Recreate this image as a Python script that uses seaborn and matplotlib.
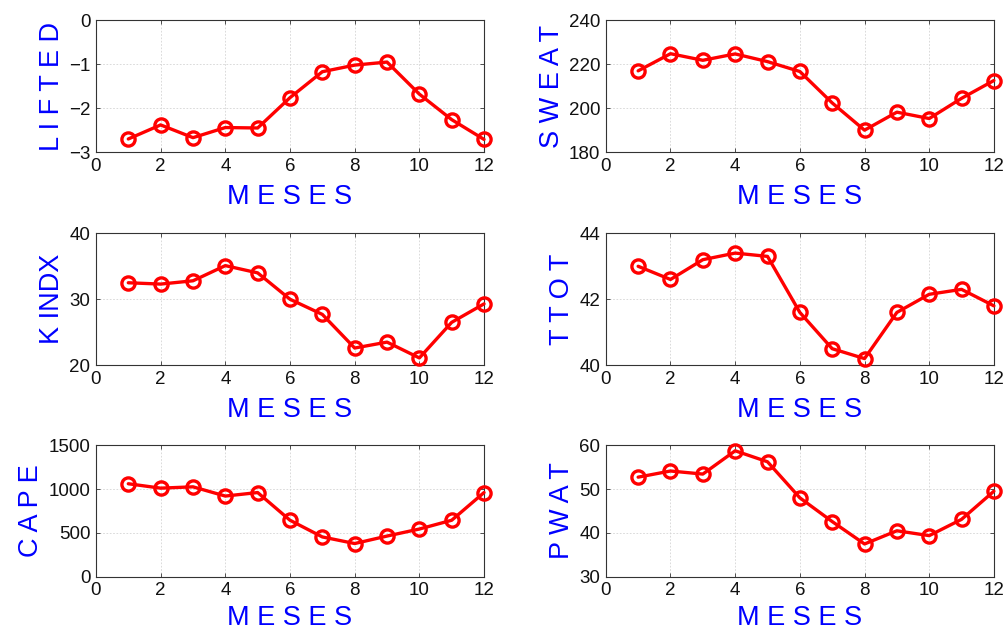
import numpy as np
import pandas as pd
import matplotlib
matplotlib.use("Agg")
import matplotlib.pyplot as plt
import seaborn as sns

months = list(range(1, 13))
lifted = [-2.70, -2.38, -2.67, -2.44, -2.45, -1.76, -1.17, -1.02, -0.95, -1.68, -2.26, -2.71]
sweat = [217.0, 224.8, 221.8, 224.7, 221.2, 216.7, 202.4, 190.0, 198.2, 195.3, 204.5, 212.6]
kindx = [32.5, 32.3, 32.8, 35.1, 34.0, 30.0, 27.7, 22.6, 23.5, 21.1, 26.5, 29.3]
ttot = [43.0, 42.6, 43.2, 43.4, 43.3, 41.6, 40.5, 40.2, 41.6, 42.15, 42.3, 41.8]
cape = [1060, 1010, 1025, 920, 960, 645, 455, 380, 465, 545, 645, 960]
pwat = [52.7, 54.1, 53.4, 58.7, 56.2, 48.0, 42.6, 37.5, 40.5, 39.4, 43.1, 49.5]

panels = [
    ("L I F T E D", lifted, (-3, 0), [-3, -2, -1, 0]),
    ("S W E A T", sweat, (180, 240), [180, 200, 220, 240]),
    ("K INDX", kindx, (20, 40), [20, 30, 40]),
    ("T T O T", ttot, (40, 44), [40, 42, 44]),
    ("C A P E", cape, (0, 1500), [0, 500, 1000, 1500]),
    ("P W A T", pwat, (30, 60), [30, 40, 50, 60]),
]
xlabel = "M E S E S"
xticks = [0, 2, 4, 6, 8, 10, 12]

sns.set_theme(style="white")
plt.rcParams['font.family'] = ['Liberation Sans', 'DejaVu Sans']

fig = plt.figure(figsize=(10.08, 6.34), dpi=100)

lefts = [0.0952, 0.601]
width = 0.385
bottoms = [0.760, 0.424, 0.090]
height = 0.208

for i, (name, vals, ylim, yt) in enumerate(panels):
    r, c = divmod(i, 2)
    ax = fig.add_axes([lefts[c], bottoms[r], width, height])
    df = pd.DataFrame({"mes": months, "val": vals})
    sns.lineplot(data=df, x="mes", y="val", ax=ax, color="#ff0000",
                 linewidth=2.4, marker="o", markersize=9.5,
                 markerfacecolor="none", markeredgecolor="#ff0000",
                 markeredgewidth=2.4, clip_on=False, zorder=5)
    ax.set_xlim(0, 12)
    ax.set_ylim(*ylim)
    ax.set_xticks(xticks)
    ax.set_yticks(yt)
    ax.grid(True, color="#d4d4d4", linestyle=(0, (2, 2)), linewidth=0.6)
    ax.set_axisbelow(True)
    for s in ax.spines.values():
        s.set_color("#333333")
        s.set_linewidth(0.8)
        s.set_visible(True)
    ax.tick_params(direction="in", length=3, width=0.6, colors="#333333",
                   labelcolor="#111111", labelsize=13.5, top=True, right=True,
                   bottom=True, left=True, pad=4)
    ax.set_xlabel(xlabel, color="#0000ff", fontsize=19.5,
                  labelpad=4 if r == 2 else 7)
    ax.set_ylabel(name, color="#0000ff", fontsize=19.5, labelpad=3)

fig.savefig("out.png", dpi=100)
